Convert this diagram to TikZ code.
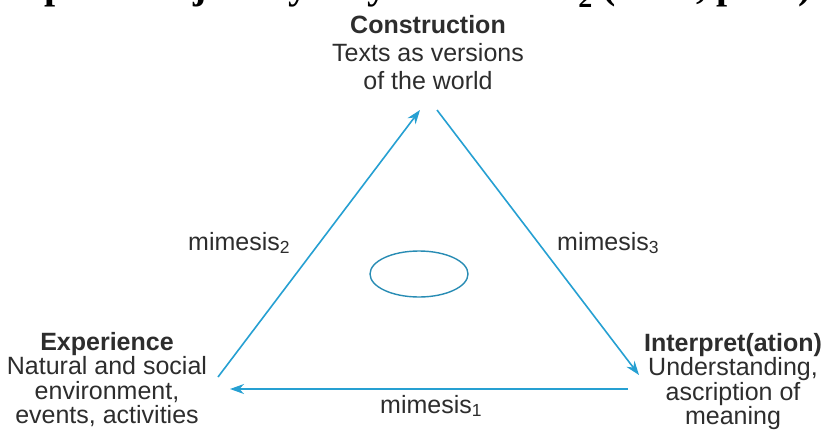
\documentclass[tikz,border=0pt]{standalone}
\usepackage{fontspec}
\setmainfont{Liberation Sans}
\newfontfamily\titleserif{Liberation Serif}
\usetikzlibrary{arrows.meta,shapes.geometric}
\definecolor{linecol}{RGB}{38,160,210}
\definecolor{ellcol}{RGB}{40,140,180}
\definecolor{txtcol}{RGB}{45,45,45}
\tikzset{
  conn/.style={draw=linecol, line width=1.6pt},
  arr/.style={conn, -{Stealth[length=14pt,width=10pt]}},
  block/.style={align=center, inner sep=0pt, anchor=north, text=txtcol,
    font=\fontsize{25}{24.5}\selectfont},
  lbl/.style={inner sep=0pt, anchor=base west, text=txtcol,
    font=\fontsize{25}{25}\selectfont},
  titletext/.style={inner sep=0pt, anchor=base east, text=black,
    font=\titleserif\bfseries\fontsize{40}{40}\selectfont}
}
\begin{document}
\begin{tikzpicture}[x=1pt,y=-1pt]
\useasboundingbox (0,0) rectangle (828,445);
\clip (0,0) rectangle (828,445);
\fill[white] (0,0) rectangle (828,445);
% cut-off title
\node[titletext] (title) at (812,-2) {A pure subject by way of mimesis\textsubscript{2} (2004, p.~79)};
% text blocks
\node[block, font=\fontsize{25}{28}\selectfont] (constr) at (428,15) {\textbf{Construction}\\Texts as versions\\of the world};
\node[block] (exper) at (107,332) {\textbf{Experience}\\Natural and social\\environment,\\events, activities};
\node[block] (interp) at (733,333) {\textbf{Interpret(ation)}\\Understanding,\\ascription of\\meaning};
% triangle corner points
\coordinate (eTop) at (218,377);
\coordinate (cLeft) at (420,110);
\coordinate (cRight) at (437,110);
\coordinate (iTip) at (639,375);
\coordinate (iLine) at (628,389);
\coordinate (eTip) at (230,389);
\draw[arr] (eTop) -- (cLeft);
\draw[arr] (cRight) -- (iTip);
\draw[arr] (iLine) -- (eTip);
% ellipse
\node[draw=ellcol, line width=1.4pt, ellipse, minimum width=98pt, minimum height=46pt, inner sep=0pt] (ell) at (419,274) {};
% labels
\node[lbl] (m2) at (188,250) {mimesis\textsubscript{2}};
\node[lbl] (m3) at (557,250) {mimesis\textsubscript{3}};
\node[lbl] (m1) at (380,413) {mimesis\textsubscript{1}};
\end{tikzpicture}
\end{document}
